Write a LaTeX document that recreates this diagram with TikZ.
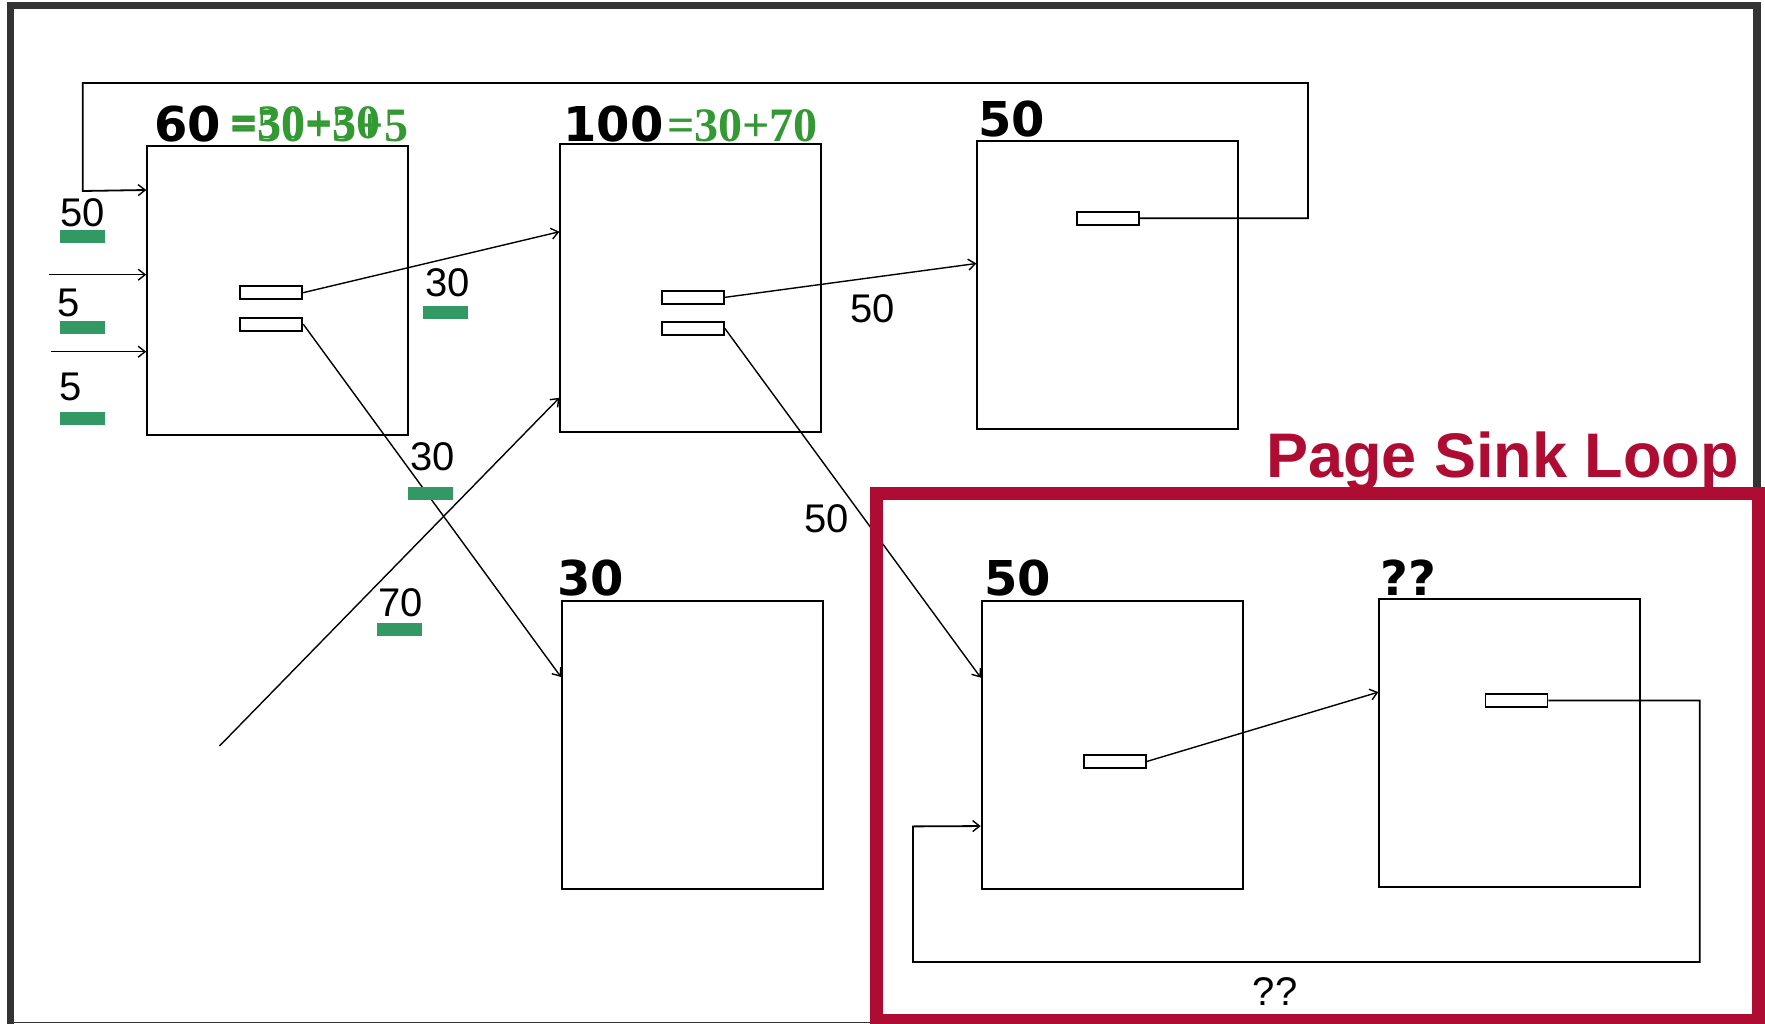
\documentclass[tikz,border=0pt]{standalone}
\usepackage{fontspec}
\usetikzlibrary{arrows.meta,calc}
\newfontfamily\lblfont{Liberation Sans}
\newfontfamily\numfont{DejaVu Sans}
\newfontfamily\grnfont{Liberation Serif}
\definecolor{framegray}{RGB}{51,51,51}
\definecolor{sink}{RGB}{175,12,52}
\definecolor{eqgreen}{RGB}{51,153,51}
\definecolor{bargreen}{RGB}{50,152,100}
\begin{document}
\begin{tikzpicture}[x=1pt,y=-1pt,
 page/.style={draw=black, line width=2pt, rectangle, minimum width=261pt, minimum height=288pt, inner sep=0pt},
 slot/.style={draw=black, line width=1.8pt, rectangle, minimum width=62pt, minimum height=13pt, inner sep=0pt},
 conn/.style={line width=1.4pt, -{Straight Barb[length=7pt,width=11pt,line width=1.4pt]}},
 wire/.style={line width=1.8pt},
 pagelbl/.style={font=\numfont\bfseries\fontsize{48}{48}\selectfont, inner sep=0pt, anchor=base west},
 val/.style={font=\lblfont\fontsize{40}{40}\selectfont, inner sep=0pt, anchor=base},
 eqlbl/.style={font=\grnfont\bfseries\fontsize{48}{48}\selectfont, text=eqgreen, inner sep=0pt, anchor=base west},
 bar/.style={fill=bargreen, draw=none},
]
\useasboundingbox (0,0) rectangle (1765,1024);
\fill[white] (0,0) rectangle (1765,1024);

% outer frame
\draw[framegray, line width=7.6pt] (10.5,1030) -- (10.5,5.5) -- (1757,5.5) -- (1757,1030);
\draw[framegray, line width=1.5pt] (14,1022.7) -- (1757,1022.7);

% pages
\node[page] (A) at (277.75,290.5) {};
\node[page] (B) at (690.9,288.25) {};
\node[page] (C) at (1107.9,285) {};
\node[page] (D) at (692.5,745) {};
\node[page] (E) at (1112.25,745.35) {};
\node[page] (F) at (1509.85,743.15) {};

% slots
\node[slot] (A1) at (271.35,292.65) {};
\node[slot] (A2) at (271.35,324.15) {};
\node[slot] (B1) at (693,297.35) {};
\node[slot] (B2) at (693,328.5) {};
\node[slot] (C1) at (1108,218.35) {};
\node[slot] (E1) at (1114.85,761.5) {};
\node[slot] (F1) at (1516.5,700.45) {};

% page labels
\node[pagelbl] (lA) at (154,141.7) {60};
\node[pagelbl] (lB) at (563,141.7) {100};
\node[pagelbl] (lC) at (978,137) {50};
\node[pagelbl] (lD) at (557,595) {30};
\node[pagelbl] (lE) at (984,595) {50};
\node[pagelbl] (lF) at (1380,595) {??};

% green equations
\node[eqlbl] (eqA1) at (230,141.7) {=50+5+5};
\node[eqlbl] (eqA2) at (230,139) {=30+30};
\node[eqlbl] (eqB) at (667,141.7) {=30+70};

% connectors
\draw[conn] (A1.east) -- ($(B.north west)+(0,88.5)$);
\draw[conn] (A2.east) -- ($(D.north west)+(0,77)$);
\coordinate (s70) at (219.5,746);
\draw[conn] (s70) -- ($(B.north west)+(0,254.5)$);
\draw[conn] (B1.east) -- ($(C.north west)+(0,123.5)$);
\draw[conn] (B2.east) -- ($(E.north west)+(0,77.3)$);
\draw[conn] (E1.east) -- ($(F.north west)+(0,94)$);

\coordinate (in1) at (49,274.7);
\coordinate (in2) at (51,351.7);
\draw[conn] (in1) -- (A.west |- in1);
\draw[conn] (in2) -- (A.west |- in2);

\draw[conn, line width=1.8pt] (C1.east) -| (1308,83) -| (82.7,191) -- ($(A.north west)+(0,44.5)$);
\draw[conn, line width=1.8pt] (F1.east) -| (1699.8,962) -| (913,826.4) -- ($(E.north west)+(0,225.7)$);

% value labels and bars
\node[val] (v50) at (82.5,227) {50};
\fill[bar] (60,230) rectangle (105,243);
\node[val] (v5a) at (69,317) {5};
\fill[bar] (60,321) rectangle (105,334);
\node[val] (v5b) at (71,400) {5};
\fill[bar] (60,412) rectangle (105,425);
\node[val] (v30a) at (448,297) {30};
\fill[bar] (423,306) rectangle (468,319);
\node[val] (v30b) at (433,470) {30};
\fill[bar] (408,487) rectangle (453,500);
\node[val] (v70) at (401,616) {70};
\fill[bar] (377,623) rectangle (422,636);
\node[val] (v50b) at (872.5,322.7) {50};
\node[val] (v50c) at (826.7,532.7) {50};
\node[val] (vq) at (1275,1005.5) {??};

% page sink loop frame
\draw[sink, line width=13pt] (876.7,493.7) rectangle (1758.5,1020.5);
\node[font=\lblfont\bfseries\fontsize{63}{63}\selectfont, text=sink, anchor=base west, inner sep=0pt] (title) at (1266,477) {Page Sink Loop};
\end{tikzpicture}
\end{document}
